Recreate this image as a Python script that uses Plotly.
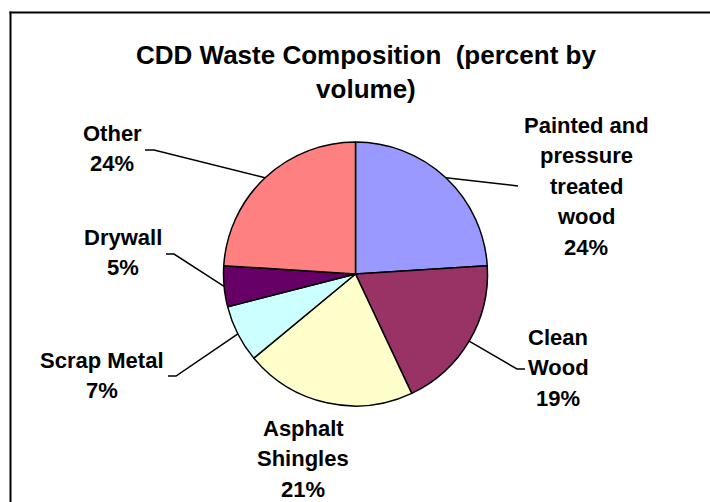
import math
import plotly.graph_objects as go

# ---- data ----
categories = ["Painted and pressure treated wood", "Clean Wood", "Asphalt Shingles",
              "Scrap Metal", "Drywall", "Other"]
label_lines = [["Painted and", "pressure", "treated", "wood"], ["Clean", "Wood"],
               ["Asphalt", "Shingles"], ["Scrap Metal"], ["Drywall"], ["Other"]]
values = [24, 19, 21, 7, 5, 24]
colors = ["#9999FF", "#993366", "#FFFFCC", "#CCFFFF", "#660066", "#FF8080"]
title_text = "CDD Waste Composition\u00a0\u00a0(percent by<br>volume)"

# ---- layout constants (screen pixels) ----
W, H = 710, 502
OFF = 0
CX, CY, R = 355.5, 274.0, 132.0
FONT = "Liberation Sans, Arial, sans-serif"
LINE_SP = 30.5
label_pos = [(586, 125), (558, 337), (303, 428), (102, 360), (123, 237), (112, 133)]
leader_ends = [((510, 185), (518, 186)), ((517, 369), (525, 369)), None,
               ((176, 376), (168, 376)), ((174, 254), (166, 254)), ((154, 150), (145, 150))]


def px(x):
    return (x - OFF) / W


def py(y):
    return 1 - (y - OFF) / H


fig = go.Figure(go.Pie(
    labels=categories, values=values, sort=False, direction="clockwise", rotation=0,
    marker=dict(colors=colors, line=dict(color="black", width=1.5)),
    textinfo="none", hoverinfo="label+percent", showlegend=False,
    domain=dict(x=[px(CX - R), px(CX + R)], y=[py(CY + R), py(CY - R)]),
))

annotations = []
shapes = []
total = sum(values)
cum = 0
for i, v in enumerate(values):
    mid = 2 * math.pi * (cum + v / 2) / total
    cum += v
    lines = label_lines[i] + [f"{v}%"]
    lx, ly = label_pos[i]
    for j, t in enumerate(lines):
        annotations.append(dict(
            x=px(lx), y=py(ly + j * LINE_SP), xref="paper", yref="paper",
            text=t, showarrow=False, xanchor="center", yanchor="middle",
            font=dict(family=FONT, size=22, color="black", weight="bold"),
        ))
    if leader_ends[i] is not None:
        sx = CX + R * math.sin(mid)
        sy = CY - R * math.cos(mid)
        (ex, ey), (fx, fy) = leader_ends[i]
        path = f"M {px(sx)} {py(sy)} L {px(ex)} {py(ey)} L {px(fx)} {py(fy)}"
        shapes.append(dict(type="path", xref="paper", yref="paper", path=path,
                           line=dict(color="black", width=1.5)))

annotations.append(dict(
    x=px(366), y=py(38), xref="paper", yref="paper", text=title_text,
    showarrow=False, xanchor="center", yanchor="top",
    font=dict(family=FONT, size=26, color="black", weight="bold"),
))

# chart frame: only its top and left edges are inside the view
shapes.append(dict(type="line", xref="paper", yref="paper",
                   x0=px(9.5), y0=py(12.5), x1=px(760), y1=py(12.5),
                   line=dict(color="black", width=2)))
shapes.append(dict(type="line", xref="paper", yref="paper",
                   x0=px(10.5), y0=py(11.5), x1=px(10.5), y1=py(560),
                   line=dict(color="black", width=2)))

fig.update_layout(
    width=W, height=H, margin=dict(l=0, r=0, t=0, b=0),
    paper_bgcolor="white", plot_bgcolor="white",
    annotations=annotations, shapes=shapes,
    font=dict(family=FONT),
)

fig.write_html(
    "out.html",
    config={"displayModeBar": False},
    post_script="document.body.style.margin='0';document.body.style.overflow='hidden';",
)
